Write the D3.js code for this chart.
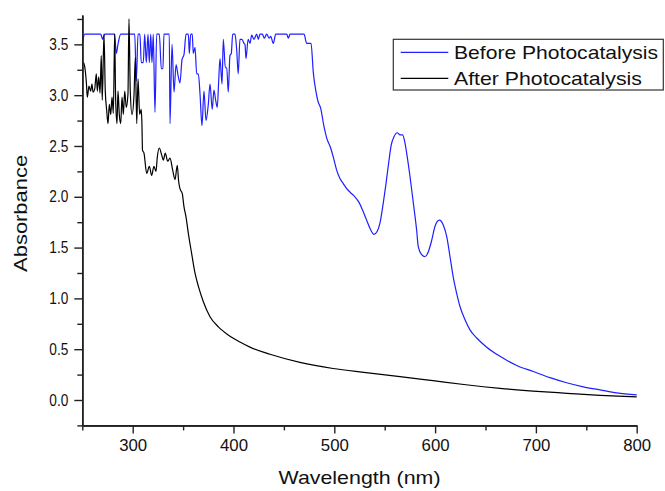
<!DOCTYPE html>
<html>
<head>
<meta charset="utf-8">
<script src="https://cdn.jsdelivr.net/npm/d3@7"></script>
<style>
  html, body { margin: 0; padding: 0; background: #fff; }
  svg { display: block; font-family: "Liberation Sans", Arial, sans-serif; }
</style>
</head>
<body>
<svg id="chart" width="665" height="491"></svg>
<script>
// UV-Vis absorption spectra: wavelength (nm) and absorbance
const beforeSpectrum = [
  [250,3.50],[252.4,3.60],[268.3,3.60],[270.2,3.55],[272.2,3.60],[282.1,3.60],[283.7,3.41],[285.4,3.50],
  [288.1,3.60],[302.0,3.60],[303.6,3.14],[305.3,3.60],[307.2,3.60],[308.5,3.32],[310.5,3.32],[311.9,3.60],
  [313.5,3.32],[315.2,3.60],[316.5,3.32],[317.9,3.60],[319.1,3.32],[320.4,3.60],[322.1,2.83],[323.8,3.60],
  [326.4,3.60],[328.4,3.26],[330.0,3.26],[331.0,3.60],[336.3,3.60],[337.0,2.72],[339.0,3.50],[341.0,3.03],
  [343.0,3.30],[344.9,3.20],[346.9,3.12],[348.9,3.35],[350.9,3.40],[352.9,3.60],[355.2,3.60],[356.2,3.41],
  [357.5,3.60],[359.1,3.60],[360.1,3.41],[361.8,3.47],[363.5,3.21],[365.1,3.21],[366.8,3.01],[368.7,2.70],
  [370.7,3.04],[372.7,2.75],[375.0,2.91],[376.7,3.11],[378.9,2.86],[380.6,3.05],[382.3,2.95],[383.9,2.88],
  [385.3,3.14],[386.6,3.36],[388.6,3.11],[389.9,3.55],[391.9,3.27],[393.3,3.27],[394.8,3.03],[396.5,3.39],
  [397.8,3.41],[399.2,3.60],[401.5,3.60],[403.2,3.44],[404.7,3.21],[406.4,3.55],[408.4,3.55],[410.4,3.51],
  [411.4,3.50],[412.4,3.36],[414.5,3.55],[416.4,3.51],[418.0,3.59],[420.3,3.55],[423.0,3.60],[424.6,3.55],
  [426.3,3.60],[428.6,3.60],[430.6,3.56],[432.9,3.60],[435.5,3.56],[436.9,3.58],[439.5,3.51],[441.9,3.60],
  [452.8,3.60],[454.4,3.56],[456.1,3.60],[470.0,3.60],[472.6,3.51],[476.9,3.51],[479.2,3.22],[481.9,3.03],
  [483.8,2.94],[486.5,2.87],[489.8,2.69],[492.4,2.58],[496.4,2.48],[499.0,2.39],[502.4,2.26],[505.6,2.18],
  [508.9,2.13],[512.3,2.08],[516.2,2.04],[520.5,2.00],[524.8,1.94],[528.8,1.85],[532.1,1.77],[535.4,1.69],
  [539.4,1.63],[542.6,1.66],[545.3,1.74],[548.6,1.94],[551.3,2.13],[553.9,2.33],[556.5,2.51],[559.2,2.59],
  [562.5,2.63],[565.2,2.61],[567.8,2.61],[570.1,2.53],[572.4,2.39],[575.1,2.20],[578.4,1.94],[581.7,1.67],
  [583.3,1.51],[586.7,1.43],[590.0,1.41],[593.3,1.46],[596.6,1.57],[599.9,1.71],[604.2,1.77],[608.2,1.72],
  [611.5,1.61],[614.8,1.41],[618.0,1.21],[621.4,1.05],[624.7,0.92],[629.7,0.79],[634.6,0.69],[641.3,0.61],
  [651.2,0.52],[664.4,0.43],[681.0,0.34],[697.4,0.28],[714.0,0.22],[730.5,0.17],[747.0,0.13],[763.6,0.10],
  [780.1,0.07],[800,0.05]
];

const afterSpectrum = [
  [250,3.33],[251.7,3.31],[254.0,3.13],[255.0,2.98],[256.6,3.09],[258.3,3.04],[259.6,3.11],[260.6,3.03],
  [262.3,3.06],[263.9,3.21],[264.9,3.04],[266.3,3.18],[267.6,3.02],[268.8,3.39],[269.8,2.95],[271.5,3.60],
  [272.8,3.04],[274.2,2.85],[275.5,2.72],[276.8,2.91],[278.2,2.81],[279.5,2.98],[280.8,2.82],[282.1,3.60],
  [283.1,2.95],[284.4,2.72],[285.4,3.04],[286.7,2.81],[288.1,2.72],[289.4,2.98],[290.7,2.81],[292.1,3.04],
  [293.6,2.88],[295.3,3.01],[296.3,3.75],[297.6,3.04],[299.3,2.81],[301.3,3.00],[302.6,3.37],[304.0,2.72],
  [305.3,3.16],[306.9,2.81],[308.5,2.86],[309.2,2.70],[309.7,2.46],[311.2,2.43],[313.9,2.23],[316.5,2.30],
  [318.8,2.21],[321.1,2.30],[323.1,2.25],[324.4,2.39],[326.4,2.48],[328.8,2.41],[330.4,2.36],[332.3,2.43],
  [334.7,2.35],[337.0,2.38],[339.7,2.26],[342.0,2.17],[344.2,2.31],[345.6,2.15],[346.9,2.08],[349.2,2.03],
  [350.9,1.90],[352.9,1.80],[355.2,1.64],[358.5,1.44],[361.8,1.25],[365.1,1.12],[370.0,0.97],[376.7,0.82],
  [385.0,0.72],[394.8,0.64],[406.4,0.57],[416.3,0.52],[436.2,0.45],[465.9,0.37],[498.7,0.31],[531.4,0.27],
  [565.2,0.23],[597.9,0.19],[630.6,0.15],[664.4,0.115],[697.1,0.088],[730.9,0.066],[763.6,0.046],[800,0.03]
];

const xMajorTicks = [300, 400, 500, 600, 700, 800];
const xMinorTicks = [250, 350, 450, 550, 650, 750];
const yMajorTicks = [0, 0.5, 1.0, 1.5, 2.0, 2.5, 3.0, 3.5];
const yMinorTicks = [-0.25, 0.25, 0.75, 1.25, 1.75, 2.25, 2.75, 3.25, 3.75];
const seriesNames = ["Before Photocatalysis", "After Photocatalysis"];
const seriesColors = ["#1f1fff", "#000000"];

const svg = d3.select("#chart");
const x = d3.scaleLinear().domain([250, 800]).range([82.3, 636.7]);
const y = d3.scaleLinear().domain([-0.25, 3.79]).range([425.4, 14.9]);
const axisColor = "#222";

// spectra
const line = d3.line()
  .x(d => x(d[0]))
  .y(d => y(d[1]))
  .curve(d3.curveMonotoneX);
[beforeSpectrum, afterSpectrum].forEach((data, i) => {
  svg.append("path")
    .datum(data)
    .attr("d", line)
    .attr("fill", "none")
    .attr("stroke", seriesColors[i])
    .attr("stroke-width", 1.2)
    .attr("stroke-linejoin", "round");
});

// x axis: minor then major ticks
const xAxisG = svg.append("g").attr("transform", `translate(0,${y(-0.25)})`);
xAxisG.append("g")
  .call(d3.axisBottom(x).tickValues(xMinorTicks).tickSize(5).tickSizeOuter(0).tickFormat(""));
xAxisG.append("g")
  .call(d3.axisBottom(x).tickValues(xMajorTicks).tickSize(8).tickSizeOuter(0).tickPadding(6).tickFormat(d3.format("d")));

// y axis
const yAxisG = svg.append("g").attr("transform", `translate(${x(250)},0)`);
yAxisG.append("g")
  .call(d3.axisLeft(y).tickValues(yMinorTicks).tickSize(5).tickSizeOuter(0).tickFormat(""));
yAxisG.append("g")
  .call(d3.axisLeft(y).tickValues(yMajorTicks).tickSize(8).tickSizeOuter(0).tickPadding(6).tickFormat(d3.format(".1f")));

svg.selectAll(".domain").attr("stroke", axisColor).attr("stroke-width", 1.6);
svg.selectAll(".tick line").attr("stroke", axisColor).attr("stroke-width", 1.4);
svg.selectAll(".tick text")
  .attr("fill", "#111")
  .style("font-size", "16px")
  .style("font-family", "'Liberation Sans', Arial, sans-serif");
xAxisG.selectAll(".tick text").attr("textLength", 28).attr("lengthAdjust", "spacingAndGlyphs");
yAxisG.selectAll(".tick text").attr("textLength", 19).attr("lengthAdjust", "spacingAndGlyphs");

// axis titles
svg.append("text")
  .attr("x", (x(250) + x(800)) / 2)
  .attr("y", 484)
  .attr("text-anchor", "middle")
  .attr("font-size", 18.5)
  .attr("fill", "#111")
  .attr("textLength", 162)
  .attr("lengthAdjust", "spacingAndGlyphs")
  .text("Wavelength (nm)");

svg.append("text")
  .attr("transform", "translate(27,213.4) rotate(-90)")
  .attr("text-anchor", "middle")
  .attr("font-size", 18.5)
  .attr("fill", "#111")
  .attr("textLength", 117)
  .attr("lengthAdjust", "spacingAndGlyphs")
  .text("Absorbance");

// legend
const legend = svg.append("g").attr("transform", "translate(393.3,39.3)");
legend.append("rect")
  .attr("width", 270).attr("height", 50.7)
  .attr("fill", "#fff").attr("stroke", "#333").attr("stroke-width", 1.2);
const legendWidths = [204, 188];
seriesNames.forEach((name, i) => {
  const cy = 13 + i * 26;
  legend.append("line")
    .attr("x1", 7.4).attr("x2", 55)
    .attr("y1", cy).attr("y2", cy)
    .attr("stroke", seriesColors[i]).attr("stroke-width", 1.2);
  legend.append("text")
    .attr("x", 60.7).attr("y", cy + 7)
    .attr("font-size", 19)
    .attr("fill", "#111")
    .attr("textLength", legendWidths[i])
    .attr("lengthAdjust", "spacingAndGlyphs")
    .text(name);
});
</script>
</body>
</html>
